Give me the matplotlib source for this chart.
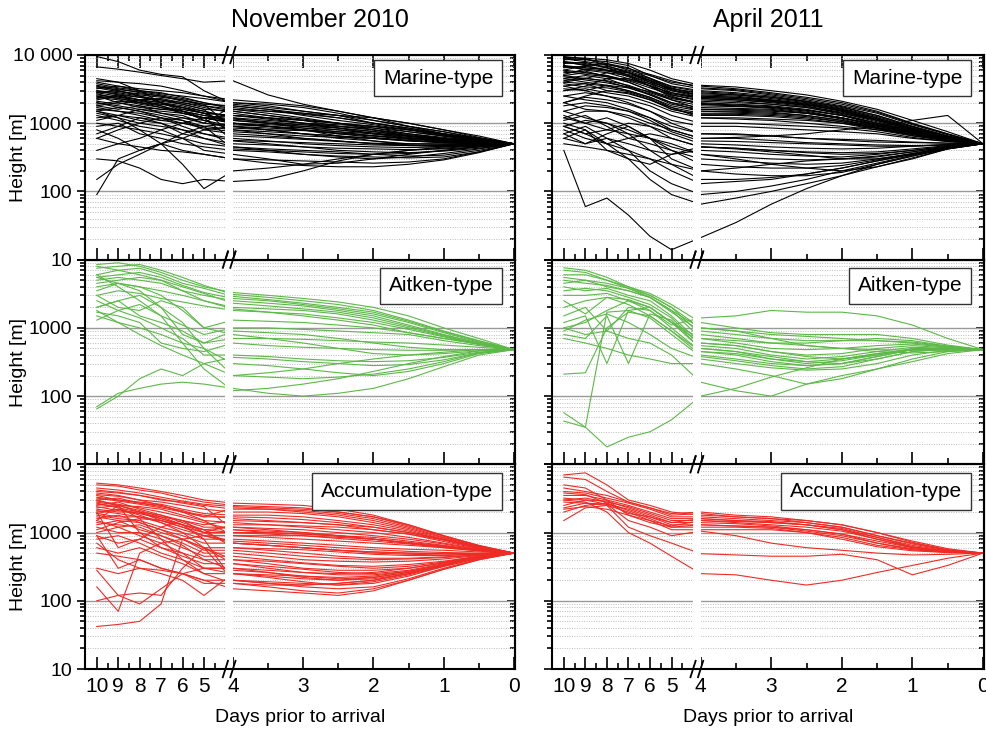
import matplotlib
matplotlib.use('Agg')

import numpy as np
import matplotlib.pyplot as plt
from matplotlib.ticker import FixedLocator, LogLocator, NullFormatter, FuncFormatter
from matplotlib.patches import Rectangle

plt.rcParams['font.family'] = ['Liberation Sans', 'DejaVu Sans']

# days prior to arrival at which each trajectory height is read
days = [10, 9, 8, 7, 6, 5, 4, 3.5, 3, 2.5, 2, 1.5, 1, 0.5, 0]

col_titles = ['November 2010', 'April 2011']
row_labels = ['Marine-type', 'Aitken-type', 'Accumulation-type']
row_colors = ['#000000', '#5cb947', '#ee2b25']

# heights [m] of the back trajectories
nov_marine = [
    [6700, 6200, 5600, 5000, 4500, 4000, 4200, 2600, 1900, 1500, 1200, 900, 750, 600, 500],
    [9500, 8000, 6000, 5200, 4800, 3000, 1900, 1700, 1500, 1300, 1000, 850, 700, 580, 500],
    [4200, 4000, 3800, 3500, 3000, 2500, 2000, 1800, 1500, 1300, 1100, 900, 750, 600, 500],
    [3800, 3300, 3000, 2800, 2400, 2000, 1700, 1500, 1400, 1300, 1200, 1000, 800, 620, 500],
    [3500, 3000, 2600, 2400, 2200, 1800, 1500, 1300, 1100, 900, 800, 700, 620, 550, 500],
    [3000, 2800, 2500, 2200, 2000, 1700, 1400, 1200, 1000, 850, 700, 620, 560, 520, 500],
    [2800, 2500, 2200, 2000, 1800, 1500, 1200, 1100, 1000, 950, 900, 800, 700, 600, 500],
    [2600, 2400, 2200, 2300, 2000, 1800, 1600, 1400, 1200, 1000, 800, 650, 560, 520, 500],
    [2400, 2200, 1900, 1700, 1500, 1300, 1100, 1000, 900, 800, 700, 600, 550, 520, 500],
    [2200, 2500, 2000, 1800, 1400, 1200, 1000, 900, 800, 700, 620, 560, 520, 500, 500],
    [2000, 1800, 1600, 1500, 1400, 1200, 1000, 950, 900, 850, 750, 650, 570, 530, 500],
    [1800, 1600, 1800, 1400, 1300, 1000, 900, 850, 800, 750, 700, 650, 600, 550, 500],
    [1600, 1500, 1400, 1200, 1000, 900, 800, 750, 700, 650, 600, 550, 520, 500, 500],
    [1500, 1700, 1500, 1300, 1100, 800, 700, 650, 600, 550, 500, 480, 470, 480, 500],
    [1400, 1200, 1000, 900, 800, 700, 600, 550, 500, 470, 450, 440, 450, 470, 500],
    [1200, 1300, 1100, 1000, 700, 600, 500, 480, 450, 430, 420, 410, 420, 450, 500],
    [1000, 900, 800, 700, 600, 500, 450, 420, 400, 380, 350, 330, 340, 400, 500],
    [900, 1000, 700, 600, 500, 450, 400, 380, 350, 330, 320, 310, 320, 380, 500],
    [800, 600, 400, 500, 400, 350, 300, 290, 280, 270, 260, 270, 300, 380, 500],
    [600, 500, 450, 400, 380, 350, 300, 260, 240, 230, 230, 250, 290, 370, 500],
    [90, 300, 400, 500, 700, 900, 1000, 900, 800, 700, 650, 600, 550, 520, 500],
    [150, 250, 350, 500, 600, 800, 900, 800, 700, 650, 600, 550, 520, 510, 500],
    [300, 280, 220, 150, 130, 150, 140, 150, 200, 280, 350, 400, 430, 470, 500],
    [1500, 1200, 800, 500, 250, 110, 200, 220, 250, 300, 350, 400, 450, 480, 500],
    [4000, 3500, 3200, 3000, 2800, 2500, 2200, 2000, 1800, 1500, 1200, 1000, 800, 650, 500],
    [3200, 3500, 3000, 2700, 2500, 2300, 2000, 1900, 1700, 1400, 1100, 900, 700, 600, 500],
    [2500, 2000, 1800, 1600, 1600, 1400, 1300, 1200, 1100, 1000, 900, 800, 650, 560, 500],
    [1900, 2100, 2000, 1900, 1700, 1500, 1200, 1000, 850, 750, 650, 580, 540, 510, 500],
    [1700, 1500, 1300, 1100, 1200, 1100, 900, 800, 700, 600, 550, 500, 490, 490, 500],
    [3000, 2600, 2200, 1800, 1500, 1100, 800, 700, 600, 550, 500, 470, 460, 480, 500],
    [2000, 1700, 1500, 1200, 900, 700, 550, 500, 450, 400, 380, 370, 390, 430, 500],
    [700, 900, 1200, 1000, 800, 600, 450, 400, 350, 320, 300, 320, 360, 420, 500],
    [400, 500, 600, 800, 1000, 1200, 1300, 1200, 1100, 1000, 900, 750, 650, 560, 500],
    [2800, 3000, 2500, 2000, 1700, 1400, 1000, 900, 800, 650, 550, 480, 450, 460, 500],
    [1300, 1100, 900, 800, 600, 400, 350, 300, 250, 260, 300, 350, 400, 450, 500],
    [4500, 4000, 3000, 2000, 1500, 1200, 1100, 1000, 950, 900, 850, 750, 650, 560, 500],
    [3300, 2900, 2700, 2500, 2100, 1900, 1800, 1600, 1300, 1100, 950, 800, 680, 570, 500],
    [2300, 2600, 2400, 2100, 1900, 1600, 1500, 1300, 1150, 1000, 850, 700, 600, 540, 500],
    [2100, 1900, 2200, 2000, 1600, 1400, 1300, 1150, 1000, 900, 800, 680, 590, 530, 500],
    [1800, 2000, 1700, 1600, 1500, 1300, 1150, 1050, 950, 850, 760, 660, 580, 530, 500],
    [2700, 2300, 2100, 1900, 1700, 1400, 950, 900, 850, 800, 720, 640, 570, 520, 500],
    [3600, 3200, 2800, 2500, 2200, 1900, 850, 800, 780, 720, 660, 600, 560, 520, 500],
    [1100, 1300, 1200, 1100, 1000, 850, 750, 700, 650, 620, 600, 560, 530, 510, 500],
    [2900, 2700, 2400, 2200, 1900, 1600, 650, 620, 580, 540, 510, 500, 500, 500, 500],
    [2500, 2300, 2000, 1700, 1400, 1200, 560, 540, 520, 500, 480, 470, 480, 490, 500],
    [1500, 1300, 1600, 1400, 1200, 1000, 1800, 1600, 1400, 1200, 1000, 850, 700, 580, 500],
    [3400, 3100, 2900, 2600, 2300, 2000, 1600, 1500, 1350, 1200, 1000, 820, 670, 560, 500],
    [600, 800, 1000, 1200, 1100, 900, 420, 400, 380, 360, 350, 360, 400, 450, 500],
]

apr_marine = [
    [9000, 8500, 8000, 7000, 5000, 4000, 3500, 3200, 2800, 2400, 2000, 1500, 1000, 700, 500],
    [8500, 8800, 7500, 6000, 5000, 3800, 3200, 3000, 2600, 2200, 1800, 1400, 950, 680, 500],
    [8000, 7000, 6000, 5500, 4500, 3500, 3000, 2800, 2500, 2100, 1700, 1300, 900, 650, 500],
    [7500, 7800, 6500, 5000, 4000, 3200, 2800, 2600, 2300, 2000, 1600, 1200, 850, 640, 500],
    [7000, 6000, 5500, 4500, 3800, 3000, 2600, 2500, 2200, 1900, 1500, 1100, 800, 620, 500],
    [6500, 6800, 6000, 4800, 3500, 2800, 2400, 2300, 2100, 1800, 1400, 1050, 780, 600, 500],
    [6000, 5500, 5000, 4200, 3300, 2600, 2200, 2100, 1900, 1700, 1350, 1000, 760, 600, 500],
    [5500, 5800, 4800, 4000, 3000, 2400, 2000, 1900, 1800, 1600, 1300, 950, 740, 590, 500],
    [5000, 4500, 4200, 3600, 2800, 2200, 1800, 1750, 1700, 1500, 1200, 900, 720, 580, 500],
    [4500, 5000, 4500, 3500, 2600, 2000, 1700, 1650, 1600, 1400, 1150, 870, 700, 570, 500],
    [4000, 3800, 3500, 3000, 2400, 1800, 1500, 1500, 1450, 1300, 1100, 850, 680, 560, 500],
    [3500, 3800, 3000, 2700, 2200, 1700, 1400, 1400, 1350, 1250, 1050, 830, 660, 560, 500],
    [3000, 3200, 2800, 2500, 2000, 1500, 1200, 1200, 1150, 1100, 1000, 800, 650, 550, 500],
    [2500, 2800, 2500, 2200, 1800, 1300, 1000, 1000, 950, 900, 850, 750, 620, 540, 500],
    [2000, 2400, 2200, 1900, 1500, 1100, 900, 900, 850, 800, 750, 700, 600, 540, 500],
    [1500, 1800, 1700, 1500, 1200, 900, 700, 700, 650, 600, 580, 560, 530, 510, 500],
    [1200, 1500, 1500, 1300, 1000, 800, 600, 600, 560, 520, 500, 480, 470, 480, 500],
    [9200, 9000, 8500, 7500, 6000, 4500, 3600, 3400, 3000, 2600, 2100, 1600, 1100, 750, 500],
    [6000, 7000, 7500, 6500, 4500, 3200, 2700, 2600, 2400, 2100, 1750, 1300, 900, 650, 500],
    [4000, 4500, 5500, 5000, 3800, 2600, 2100, 2000, 1900, 1700, 1400, 1100, 820, 620, 500],
    [3000, 3500, 4500, 4500, 3500, 2400, 1900, 1800, 1700, 1550, 1300, 1000, 780, 600, 500],
    [5000, 5500, 5000, 4000, 3000, 2200, 1600, 1550, 1500, 1400, 1200, 950, 760, 600, 500],
    [8000, 7500, 6500, 5000, 3500, 2500, 1900, 1800, 1650, 1450, 1200, 950, 750, 590, 500],
    [2000, 2500, 3000, 2800, 2200, 1600, 1300, 1300, 1250, 1150, 1000, 850, 700, 570, 500],
    [7000, 6500, 6000, 5500, 4000, 2800, 2300, 2200, 2050, 1850, 1550, 1150, 820, 620, 500],
    [900, 700, 800, 1000, 900, 700, 500, 480, 450, 430, 420, 430, 460, 490, 500],
    [800, 600, 500, 600, 700, 600, 450, 430, 400, 380, 370, 380, 420, 470, 500],
    [700, 900, 600, 500, 400, 350, 400, 380, 350, 330, 320, 350, 400, 460, 500],
    [1000, 800, 500, 300, 250, 350, 450, 420, 380, 340, 300, 300, 350, 430, 500],
    [600, 500, 700, 900, 600, 300, 200, 220, 250, 280, 300, 330, 380, 450, 500],
    [1100, 1300, 900, 600, 500, 400, 300, 280, 260, 250, 260, 300, 360, 440, 500],
    [500, 450, 400, 350, 300, 250, 200, 180, 170, 170, 190, 250, 330, 430, 500],
    [900, 1100, 1000, 700, 400, 250, 150, 150, 160, 180, 220, 280, 350, 440, 500],
    [1300, 1000, 800, 700, 600, 500, 350, 300, 250, 220, 200, 230, 300, 420, 500],
    [400, 60, 80, 45, 22, 14, 21, 35, 65, 110, 170, 250, 330, 420, 500],
    [600, 800, 400, 300, 150, 90, 65, 80, 100, 130, 170, 230, 310, 420, 500],
    [700, 500, 600, 400, 200, 130, 90, 100, 120, 150, 200, 260, 340, 440, 500],
    [900, 700, 500, 400, 300, 200, 130, 140, 150, 180, 220, 280, 350, 440, 500],
    [1200, 1000, 1200, 900, 600, 400, 250, 230, 220, 220, 240, 290, 360, 440, 500],
    [1500, 1200, 1000, 800, 600, 450, 350, 320, 300, 290, 300, 320, 380, 450, 500],
    [2000, 1600, 1500, 1200, 900, 600, 450, 430, 400, 370, 350, 360, 400, 460, 500],
    [3500, 3000, 2500, 2000, 1500, 1000, 700, 680, 650, 600, 560, 530, 520, 510, 500],
    [2500, 2200, 2000, 1600, 1200, 800, 600, 620, 650, 700, 800, 900, 1100, 1300, 500],
    [4500, 4000, 3600, 3000, 2400, 1700, 1200, 1150, 1100, 1000, 900, 800, 700, 580, 500],
    [1800, 2000, 1800, 1500, 1100, 750, 550, 540, 520, 500, 480, 460, 460, 480, 500],
    [8800, 8000, 7200, 6300, 5200, 4200, 3300, 3100, 2700, 2300, 1900, 1450, 980, 690, 500],
    [7800, 7200, 6800, 5800, 4600, 3400, 2900, 2700, 2400, 2050, 1650, 1250, 880, 640, 500],
    [6800, 6200, 5800, 5200, 4200, 3100, 2500, 2400, 2150, 1900, 1550, 1150, 820, 620, 500],
    [5800, 5200, 4800, 4300, 3600, 2700, 2300, 2200, 2000, 1750, 1450, 1100, 800, 610, 500],
    [4800, 4300, 3900, 3400, 2900, 2300, 1950, 1850, 1750, 1550, 1300, 1000, 770, 600, 500],
    [4200, 4600, 4100, 3300, 2600, 1900, 1600, 1600, 1550, 1400, 1200, 930, 730, 580, 500],
    [3800, 3400, 3300, 2900, 2300, 1600, 1350, 1350, 1300, 1200, 1050, 860, 690, 570, 500],
    [9500, 8800, 7000, 5500, 4300, 3300, 2500, 2400, 2200, 1950, 1600, 1200, 850, 630, 500],
    [5200, 6200, 6500, 5600, 4200, 3000, 2400, 2300, 2100, 1850, 1500, 1150, 820, 620, 500],
    [3200, 3000, 3600, 3300, 2700, 2000, 1500, 1450, 1400, 1300, 1100, 900, 720, 580, 500],
]

nov_aitken = [
    [8500, 9000, 8000, 6500, 5000, 4000, 3300, 3000, 2700, 2400, 2000, 1500, 1000, 700, 480],
    [7500, 8000, 8500, 7000, 5500, 4200, 3100, 2800, 2500, 2200, 1800, 1300, 900, 650, 480],
    [6000, 7000, 7500, 6000, 4500, 3800, 2900, 2600, 2300, 2000, 1700, 1250, 880, 640, 480],
    [5500, 6000, 6500, 5500, 4200, 3300, 2700, 2500, 2200, 1900, 1600, 1200, 850, 620, 480],
    [5000, 5500, 5000, 4500, 3500, 3000, 2500, 2300, 2100, 1800, 1500, 1100, 800, 600, 480],
    [4500, 5000, 5500, 5000, 4000, 3200, 2300, 2100, 1900, 1700, 1400, 1050, 780, 600, 480],
    [4000, 4500, 4000, 3500, 3000, 2500, 2000, 1900, 1800, 1600, 1300, 1000, 760, 580, 480],
    [3000, 3500, 3200, 2700, 2400, 2100, 1800, 1700, 1600, 1400, 1200, 950, 740, 570, 480],
    [2500, 1800, 2200, 1500, 1100, 800, 1000, 1000, 950, 900, 850, 800, 650, 550, 480],
    [2000, 2500, 1500, 1200, 900, 600, 700, 700, 680, 650, 620, 600, 560, 520, 480],
    [1700, 1500, 1200, 600, 500, 450, 600, 550, 520, 500, 480, 470, 470, 480, 480],
    [1300, 1800, 1400, 1000, 700, 400, 400, 380, 350, 330, 320, 330, 370, 440, 480],
    [3000, 2000, 1800, 2500, 2000, 1000, 800, 700, 600, 500, 420, 400, 420, 460, 480],
    [5500, 4500, 3500, 2000, 800, 600, 900, 850, 800, 700, 600, 520, 480, 480, 480],
    [2000, 2500, 3000, 2000, 1200, 500, 300, 280, 250, 220, 200, 230, 300, 420, 480],
    [1800, 1200, 800, 550, 400, 300, 370, 350, 320, 300, 280, 290, 340, 430, 480],
    [65, 100, 180, 250, 200, 300, 200, 190, 180, 190, 210, 250, 320, 430, 480],
    [70, 110, 130, 150, 160, 150, 130, 110, 100, 110, 130, 180, 270, 400, 480],
    [6000, 4000, 2500, 1500, 600, 250, 120, 130, 150, 180, 230, 300, 380, 460, 480],
    [8000, 7000, 6000, 5000, 3500, 2500, 1900, 1700, 1500, 1300, 1100, 850, 700, 580, 480],
    [3500, 4500, 4000, 3000, 1800, 1000, 1300, 1250, 1200, 1100, 1000, 850, 700, 580, 480],
    [1500, 1200, 1000, 800, 600, 500, 200, 220, 250, 300, 350, 400, 440, 480, 480],
]

apr_aitken = [
    [7600, 7000, 5500, 4000, 3000, 2000, 1000, 900, 800, 750, 700, 650, 600, 530, 480],
    [7000, 6500, 5000, 3800, 2800, 1700, 900, 800, 700, 650, 650, 650, 620, 540, 480],
    [6000, 6000, 5000, 4000, 3200, 2200, 1200, 1000, 850, 800, 800, 800, 700, 560, 480],
    [5500, 5000, 4500, 3800, 3000, 2000, 800, 700, 600, 600, 650, 700, 650, 540, 480],
    [4500, 5000, 4000, 3500, 2800, 1800, 700, 600, 500, 480, 500, 550, 580, 520, 480],
    [4000, 3500, 3800, 3000, 2500, 1500, 600, 550, 450, 400, 420, 500, 550, 510, 480],
    [3500, 3800, 3500, 2800, 2200, 1400, 550, 500, 400, 350, 380, 450, 520, 500, 480],
    [3000, 3000, 3200, 2500, 2000, 1200, 500, 450, 350, 300, 330, 400, 500, 500, 480],
    [2500, 1600, 2800, 2200, 1500, 900, 450, 400, 320, 280, 300, 380, 480, 490, 480],
    [1500, 2000, 900, 2000, 1800, 1000, 450, 420, 350, 320, 350, 420, 480, 490, 480],
    [1000, 1200, 1800, 2500, 1800, 1100, 1400, 1500, 1800, 1700, 1700, 1500, 1100, 700, 480],
    [1200, 1500, 300, 1800, 2000, 1200, 600, 550, 450, 380, 350, 400, 480, 500, 480],
    [800, 700, 1500, 300, 1600, 1300, 500, 450, 380, 320, 300, 350, 450, 490, 480],
    [210, 220, 1000, 1700, 1500, 900, 400, 350, 300, 280, 300, 380, 480, 500, 480],
    [43, 35, 1700, 1800, 1400, 800, 380, 330, 280, 250, 270, 350, 450, 490, 480],
    [57, 35, 18, 25, 30, 45, 100, 130, 190, 260, 350, 420, 480, 500, 480],
    [900, 1300, 1600, 1200, 800, 500, 350, 300, 260, 240, 250, 300, 400, 470, 480],
    [700, 600, 500, 400, 350, 300, 300, 250, 200, 150, 180, 250, 350, 450, 480],
    [5000, 4500, 4200, 3500, 2800, 1800, 1000, 900, 700, 550, 500, 450, 430, 450, 480],
    [2000, 2500, 2800, 2600, 2000, 1200, 700, 650, 600, 550, 500, 480, 470, 470, 480],
    [1000, 800, 900, 700, 600, 400, 160, 120, 100, 150, 200, 250, 320, 420, 480],
]

nov_accum = [
    [5300, 5000, 4500, 4000, 3500, 3000, 2700, 2600, 2500, 2200, 1800, 1300, 900, 650, 500],
    [5000, 4800, 4200, 3800, 3200, 2800, 2500, 2400, 2300, 2000, 1700, 1250, 880, 640, 500],
    [4000, 3800, 3500, 3000, 2800, 2500, 2200, 2200, 2100, 1900, 1600, 1200, 850, 620, 500],
    [3800, 3500, 3000, 2800, 2500, 2200, 2000, 2000, 1900, 1700, 1400, 1100, 800, 600, 500],
    [3500, 3000, 2800, 2600, 2200, 1900, 1800, 1800, 1700, 1500, 1300, 1050, 780, 590, 500],
    [3000, 3200, 2700, 2500, 2000, 1800, 1600, 1500, 1400, 1300, 1100, 950, 740, 580, 500],
    [2800, 2500, 2400, 2200, 1800, 1500, 1400, 1300, 1200, 1100, 1000, 850, 700, 570, 500],
    [2500, 2800, 2200, 1800, 1500, 1200, 1200, 1150, 1100, 1000, 900, 800, 680, 560, 500],
    [2200, 2000, 2000, 1600, 1300, 1000, 1000, 1000, 950, 900, 850, 750, 650, 550, 500],
    [2000, 2200, 1800, 1400, 1100, 900, 900, 850, 800, 750, 700, 650, 600, 540, 500],
    [1800, 1600, 1500, 1200, 1000, 800, 800, 750, 700, 650, 600, 570, 550, 520, 500],
    [1600, 1800, 1400, 1100, 900, 700, 700, 650, 600, 550, 520, 500, 490, 490, 500],
    [1500, 1200, 1300, 1000, 800, 600, 600, 550, 500, 450, 420, 420, 440, 470, 500],
    [1300, 1500, 1100, 900, 700, 500, 500, 450, 400, 380, 370, 380, 410, 460, 500],
    [1200, 1000, 1000, 800, 600, 450, 450, 400, 360, 330, 320, 340, 380, 450, 500],
    [1000, 1200, 900, 700, 500, 400, 400, 350, 300, 280, 280, 300, 360, 440, 500],
    [900, 700, 800, 600, 450, 350, 350, 300, 260, 240, 240, 270, 340, 430, 500],
    [800, 900, 700, 500, 400, 300, 300, 260, 220, 200, 210, 250, 330, 430, 500],
    [600, 500, 600, 450, 350, 250, 250, 220, 190, 170, 180, 230, 320, 420, 500],
    [500, 450, 400, 300, 250, 200, 200, 180, 160, 150, 160, 210, 300, 410, 500],
    [300, 250, 300, 280, 250, 180, 180, 160, 140, 130, 150, 200, 290, 400, 500],
    [42, 45, 50, 90, 800, 900, 700, 650, 600, 550, 520, 500, 490, 490, 500],
    [160, 70, 500, 700, 800, 600, 400, 380, 350, 320, 300, 320, 370, 450, 500],
    [280, 120, 90, 150, 250, 300, 250, 230, 210, 200, 220, 260, 330, 430, 500],
    [900, 300, 400, 300, 250, 200, 150, 140, 130, 120, 140, 200, 290, 400, 500],
    [2000, 600, 800, 1200, 1500, 1000, 700, 650, 600, 550, 500, 480, 470, 480, 500],
    [3000, 2500, 1000, 600, 500, 300, 300, 280, 260, 250, 260, 300, 360, 440, 500],
    [1500, 2500, 2000, 1500, 1200, 1000, 1300, 1300, 1250, 1200, 1100, 950, 780, 600, 500],
    [2400, 2100, 1900, 1700, 1500, 1300, 1500, 1450, 1400, 1300, 1200, 1000, 800, 620, 500],
    [3200, 2900, 2600, 2300, 2000, 1700, 2300, 2200, 2000, 1800, 1500, 1150, 830, 620, 500],
    [700, 400, 300, 250, 200, 120, 250, 240, 230, 220, 230, 270, 340, 430, 500],
    [100, 120, 130, 120, 300, 600, 200, 180, 170, 180, 200, 250, 330, 430, 500],
    [4200, 3900, 3500, 3100, 2700, 2400, 1100, 1050, 1000, 900, 800, 700, 620, 550, 500],
    [2700, 2300, 2000, 1800, 1400, 1100, 600, 580, 560, 520, 480, 460, 460, 480, 500],
    [1900, 1700, 1700, 1400, 1000, 600, 350, 320, 290, 260, 250, 280, 350, 440, 500],
    [3600, 3400, 3000, 2500, 2000, 1500, 900, 900, 900, 850, 800, 720, 640, 550, 500],
    [1100, 1400, 1600, 1500, 1300, 1100, 1200, 1100, 1000, 900, 800, 700, 620, 550, 500],
    [2600, 2400, 1600, 800, 400, 250, 180, 170, 170, 180, 200, 250, 330, 430, 500],
    [4500, 4200, 3800, 3300, 2900, 2600, 2400, 2300, 2200, 2000, 1700, 1300, 900, 640, 500],
    [3300, 3000, 2700, 2400, 2100, 1700, 1700, 1650, 1550, 1400, 1200, 1000, 780, 600, 500],
    [2900, 2600, 2300, 2000, 1700, 1400, 1100, 1000, 950, 880, 800, 700, 620, 550, 500],
    [2100, 1900, 1700, 1500, 1200, 900, 750, 700, 650, 600, 560, 530, 510, 500, 500],
    [1700, 1500, 1400, 1100, 800, 550, 550, 500, 450, 420, 400, 410, 430, 470, 500],
    [1400, 1300, 1200, 900, 650, 400, 280, 260, 230, 210, 220, 260, 330, 430, 500],
    [2300, 2500, 2100, 1700, 1300, 800, 200, 190, 180, 170, 190, 240, 320, 420, 500],
    [1900, 2200, 1900, 1600, 1300, 1100, 1000, 950, 900, 820, 750, 680, 600, 540, 500],
]

apr_accum = [
    [7000, 7500, 5000, 3000, 2500, 2000, 1800, 1700, 1600, 1400, 1200, 900, 700, 560, 500],
    [6500, 6000, 4000, 2800, 2300, 1900, 2000, 1800, 1700, 1500, 1300, 1000, 750, 580, 500],
    [4500, 4000, 3500, 2800, 2300, 1800, 1900, 1700, 1600, 1500, 1300, 1000, 720, 560, 500],
    [4000, 3800, 3200, 2700, 2200, 1700, 1700, 1600, 1500, 1400, 1200, 900, 680, 550, 500],
    [3500, 3500, 3000, 2500, 2000, 1600, 1600, 1500, 1400, 1300, 1100, 850, 650, 540, 500],
    [3000, 3200, 2800, 2400, 1900, 1500, 1500, 1400, 1300, 1200, 1050, 800, 620, 530, 500],
    [2500, 3000, 2900, 2300, 1800, 1400, 1400, 1350, 1250, 1100, 950, 750, 600, 520, 500],
    [2300, 2700, 2600, 2200, 1700, 1300, 1300, 1250, 1200, 1050, 900, 700, 580, 520, 500],
    [2000, 2500, 2700, 2100, 1600, 1200, 1200, 1200, 1150, 1000, 850, 650, 560, 510, 500],
    [1500, 2300, 2500, 2000, 1500, 1100, 1100, 1100, 1100, 1000, 800, 620, 540, 510, 500],
    [3200, 3000, 2600, 1500, 1200, 900, 1050, 900, 700, 600, 550, 500, 470, 480, 500],
    [2800, 2700, 2500, 1200, 900, 700, 490, 470, 450, 450, 480, 400, 240, 330, 500],
    [3000, 2800, 2000, 1000, 700, 450, 250, 240, 200, 170, 200, 260, 330, 420, 500],
    [5000, 4500, 3000, 1800, 1400, 1200, 1300, 1250, 1200, 1100, 950, 700, 560, 520, 500],
    [3800, 3600, 2700, 1900, 1700, 1400, 1600, 1500, 1450, 1300, 1150, 850, 620, 530, 500],
    [2200, 2400, 2200, 1800, 1500, 1250, 1500, 1450, 1400, 1300, 1100, 800, 600, 520, 500],
]

panels = [[nov_marine, apr_marine], [nov_aitken, apr_aitken], [nov_accum, apr_accum]]

# broken day axis: days 10..4 are squeezed, a small gap sits at day 4
SQ = 0.305
GAP = 0.107


def fwd(d):
    d = np.asarray(d, dtype=float)
    return np.where(d <= 4, d, 4 + GAP + (d - 4) * SQ)


def inv(p):
    p = np.asarray(p, dtype=float)
    return np.where(p <= 4, p, np.where(p < 4 + GAP, 4.0, 4 + (p - 4 - GAP) / SQ))


XLIM = (10.55, -0.014)
p_left, p_right = float(fwd(XLIM[0])), float(fwd(XLIM[1]))


def axfrac(p):
    return (p_left - p) / (p_left - p_right)


fig = plt.figure(figsize=(9.87, 7.29), dpi=100)
W, H = 987.0, 729.0
col_x = [(85, 430), (552, 432)]
title_x = [320, 768]
top_px, ph = 55.0, 204.67
box_top_px = [5, 8, 9]

ylabels = {10: '10', 100: '100', 1000: '1000', 10000: '10 000'}

for r in range(3):
    for c in range(2):
        x0, w = col_x[c]
        y0 = H - (top_px + (r + 1) * ph)
        ax = fig.add_axes([x0 / W, y0 / H, w / W, ph / H])
        ax.set_xscale('function', functions=(fwd, inv))
        ax.set_yscale('log')
        for tr in panels[r][c]:
            ax.plot(days, tr, color=row_colors[r], lw=0.8, zorder=2)
        ax.set_xlim(*XLIM)
        ax.set_ylim(10, 10000)

        # gap of the broken axis
        a, b = axfrac(4 + GAP), axfrac(4)
        ax.add_patch(Rectangle((a, 0), b - a, 1, transform=ax.transAxes,
                               facecolor='white', edgecolor='none', zorder=2.3))
        for yy in (0, 1):
            for xf in (a, b):
                ax.plot([xf - 0.006, xf + 0.006], [yy - 0.04, yy + 0.04],
                        transform=ax.transAxes, color='k', lw=1.3,
                        clip_on=False, zorder=5)

        ax.xaxis.set_major_locator(FixedLocator(list(range(0, 11))))
        ax.xaxis.set_minor_locator(FixedLocator([x + 0.5 for x in range(10)]))
        ax.xaxis.set_major_formatter(FuncFormatter(lambda v, pos: '%d' % round(v)))
        ax.xaxis.set_minor_formatter(NullFormatter())
        ax.tick_params(axis='x', which='both', direction='in', top=(r == 0),
                       bottom=True, labelbottom=(r == 2), labelsize=15, pad=6, width=1.2)
        ax.tick_params(axis='x', which='major', length=9)
        ax.tick_params(axis='x', which='minor', length=4.5)

        ax.yaxis.set_major_locator(FixedLocator([10, 100, 1000, 10000]))
        ax.yaxis.set_minor_locator(LogLocator(base=10, subs=np.arange(2, 10)))
        ax.yaxis.set_minor_formatter(NullFormatter())
        if c == 0:
            ax.yaxis.set_major_formatter(FuncFormatter(
                lambda v, pos, rr=r: '' if (v > 5000 and rr > 0) else ylabels.get(int(round(v)), '')))
        else:
            ax.yaxis.set_major_formatter(NullFormatter())
        ax.tick_params(axis='y', which='both', direction='out', left=True, right=False,
                       labelsize=14, width=1.2, pad=3)
        ax.tick_params(axis='y', which='major', length=6)
        ax.tick_params(axis='y', which='minor', length=3.5)
        sec = ax.secondary_yaxis('right')
        sec.tick_params(axis='y', which='both', direction='in', labelright=False, width=1.2)
        sec.tick_params(axis='y', which='major', length=6)
        sec.tick_params(axis='y', which='minor', length=3.5)
        sec.spines['right'].set_linewidth(1.5)

        ax.yaxis.grid(True, which='major', color='#9a9a9a', lw=1.0, ls='-')
        ax.yaxis.grid(True, which='minor', color='#bdbdbd', lw=0.7, ls=(0, (1, 1.5)))
        ax.xaxis.grid(False)
        for s in ax.spines.values():
            s.set_linewidth(1.5)

        # label box: right edge ~ 972/502 px, top a few px below the panel top
        pad_px = 0.42 * 15 * 100 / 72
        tx = 1 - (w * 0.03 + pad_px) / w
        ty = 1 - (box_top_px[r] + pad_px) / ph
        ax.text(tx, ty, row_labels[r], transform=ax.transAxes, ha='right', va='top',
                fontsize=15, zorder=6,
                bbox=dict(boxstyle='square,pad=0.42', facecolor='white',
                          edgecolor='#333333', lw=1.0))

        if c == 0:
            fig.text(19 / W, 1 - (top_px + (r + 0.5) * ph) / H, 'Height [m]',
                     rotation=90, ha='center', va='center', fontsize=14)

for c in range(2):
    x0, w = col_x[c]
    cx = (x0 + w / 2) / W
    fig.text(title_x[c] / W, 1 - 20 / H, col_titles[c], ha='center', va='center', fontsize=18)
    fig.text(cx, 1 - 718 / H, 'Days prior to arrival', ha='center', va='center', fontsize=14)

fig.savefig('out.png', dpi=100)
plt.close(fig)
